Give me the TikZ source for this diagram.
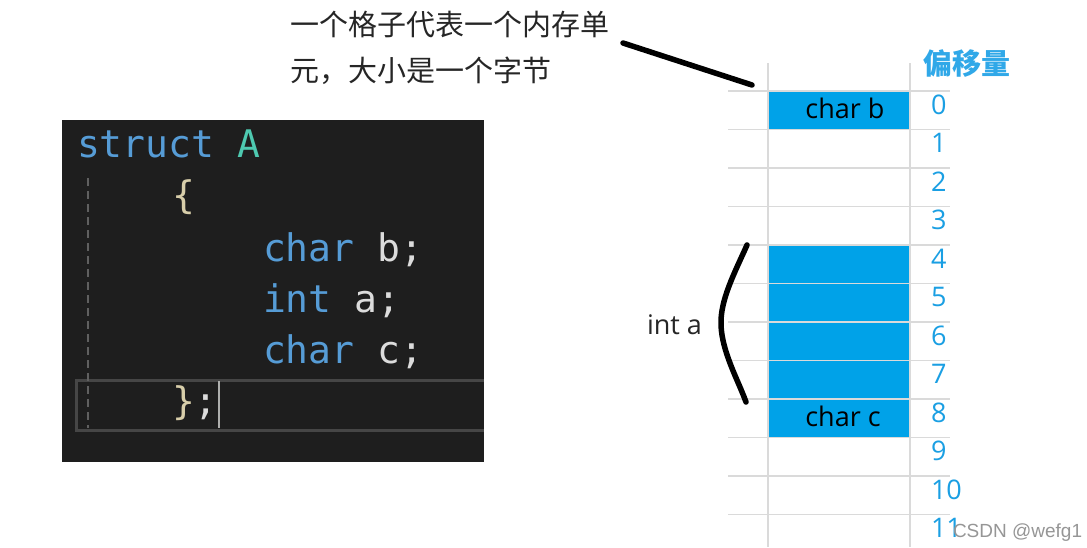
\documentclass[tikz,border=0pt]{standalone}
\usepackage{fontspec}
\setmainfont{Open Sans}
\setmonofont{DejaVu Sans Mono}
\newfontfamily\cjk{Noto Sans CJK SC}
\newfontfamily\wmfont{Liberation Sans}
\definecolor{cellblue}{RGB}{0,162,232}
\definecolor{numblue}{RGB}{26,159,227}
\definecolor{headblue}{RGB}{48,168,232}
\definecolor{gridgray}{RGB}{218,218,218}
\definecolor{codebg}{RGB}{30,30,30}
\definecolor{kw}{RGB}{86,156,214}
\definecolor{typ}{RGB}{78,201,176}
\definecolor{idc}{RGB}{220,220,220}
\definecolor{brc}{RGB}{216,206,170}
\definecolor{curline}{RGB}{70,70,70}
\definecolor{guide}{RGB}{96,96,96}
\begin{document}
\begin{tikzpicture}[x=1pt,y=-1pt,
  every node/.style={inner sep=0pt,outer sep=0pt},
  codetxt/.style={anchor=base west,font=\ttfamily\fontsize{38}{44}\selectfont},
  cellfill/.style={fill=cellblue},
  gridline/.style={draw=gridgray,line width=1.5pt},
  offnum/.style={anchor=base west,text=numblue,font=\fontsize{27}{32}\selectfont},
  celltxt/.style={anchor=base,text=black,font=\fontsize{27}{32}\selectfont},
  note/.style={anchor=base west,text=black!85,font=\cjk\fontsize{29}{34}\selectfont},
  pen/.style={line width=5.5pt,line cap=round,line join=round}]
\useasboundingbox (0,0) rectangle (1087,547);
\fill[white] (0,0) rectangle (1087,547);

% ---- code panel ----
\fill[codebg] (62,120) rectangle (484,462);
\draw[curline,line width=3pt] (484,380) -- (76,380) -- (76,430) -- (484,430);
\draw[guide,line width=2.2pt,dash pattern=on 8pt off 5pt] (88,178) -- (88,428);
\node[codetxt] (l1) at (77,157) {\textcolor{kw}{struct} \textcolor{typ}{A}};
\node[codetxt] (l2) at (172,208) {\textcolor{brc}{\{}};
\node[codetxt] (l3) at (263,261) {\textcolor{kw}{char} \textcolor{idc}{b;}};
\node[codetxt] (l4) at (263,312) {\textcolor{kw}{int} \textcolor{idc}{a;}};
\node[codetxt] (l5) at (263,363) {\textcolor{kw}{char} \textcolor{idc}{c;}};
\node[codetxt] (l6) at (172,414) {\textcolor{brc}{\}}\textcolor{idc}{;}};
\draw[color={rgb,255:red,174;green,175;blue,173},line width=2pt] (219,381) -- (219,428);

% ---- memory cells ----
\fill[cellfill] (768,91) rectangle (910,129.5);
\fill[cellfill] (768,245) rectangle (910,437.5);
\foreach \k in {0,...,11}{
  \draw[gridline] (728,{91+38.5*\k}) -- (950,{91+38.5*\k});
}
\draw[gridline] (768,63) -- (768,547);
\draw[gridline] (910,63) -- (910,547);

\node[celltxt] (cb) at (845,118) {char b};
\node[celltxt] (cc) at (843,426) {char c};
\foreach \k in {0,...,11}{
  \node[offnum] (n\k) at (931,{91+38.5*\k+23}) {\k};
}
\node[anchor=base west,text=headblue,font=\cjk\bfseries\fontsize{29}{34}\selectfont] (off) at (923,74) {偏移量};

% ---- annotations ----
\node[note] (t1) at (290,35) {一个格子代表一个内存单};
\node[note] (t2) at (290,81) {元，大小是一个字节};
\coordinate (d1) at (623,43);
\coordinate (d2) at (752,85);
\draw[pen] (d1) -- (d2);

\node[anchor=base west,text=black!85,font=\fontsize{27}{32}\selectfont] (ia) at (647,334) {int a};
\coordinate (b1) at (747,245);
\coordinate (b2) at (721,325);
\coordinate (b3) at (746,402);
\draw[pen] (b1) .. controls (735,272) and (720,300) .. (b2) .. controls (722,352) and (738,380) .. (b3);

\node[anchor=base west,text={rgb,255:red,150;green,150;blue,150},font=\wmfont\fontsize{19}{22}\selectfont] (wm) at (953,537) {CSDN @wefg1};
\end{tikzpicture}
\end{document}
